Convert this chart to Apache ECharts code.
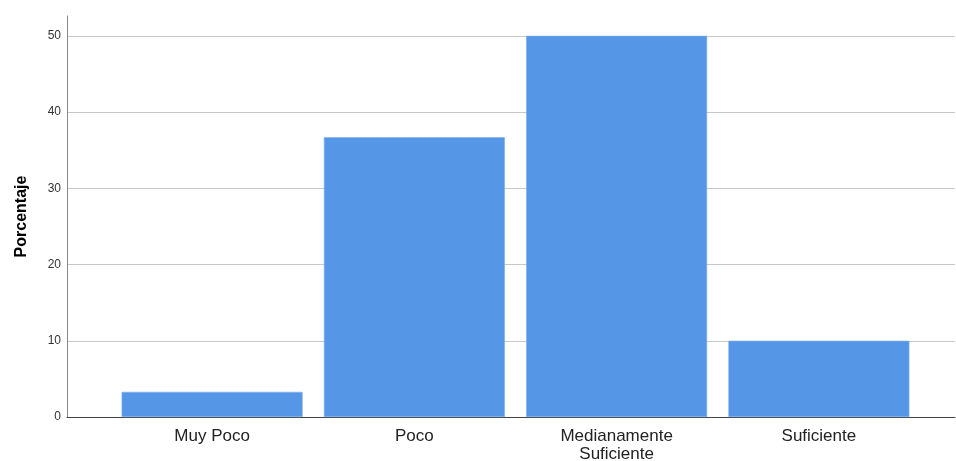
<!DOCTYPE html>
<html><head><meta charset="utf-8">
<script src="https://cdn.jsdelivr.net/npm/echarts@6/dist/echarts.min.js"></script>
<style>html,body{margin:0;padding:0;background:#fff}#c{width:956px;height:461px}</style>
</head><body><div id="c"></div>
<script>
const categories = ['Muy Poco', 'Poco', 'Medianamente\nSuficiente', 'Suficiente'];
const values = [3.3, 36.7, 50.0, 10.0];
const yTicks = [0, 10, 20, 30, 40, 50];
const yName = 'Porcentaje';

const chart = echarts.init(document.getElementById('c'));
const font = '"Liberation Sans", Arial, sans-serif';
const yMax = 52.6;
chart.setOption({
  animation: false,
  grid: [
    {left: 67, right: 1, top: 16, bottom: 44, outerBoundsMode: 'none', containLabel: false},
    {left: 111, right: 36, top: 16, bottom: 44, outerBoundsMode: 'none', containLabel: false}
  ],
  xAxis: [
    {type: 'value', gridIndex: 0, min: 0, max: 1, axisLabel: {show: false}, axisTick: {show: false}, splitLine: {show: false},
     axisLine: {show: true, lineStyle: {color: '#444', width: 1}}},
    {type: 'category', gridIndex: 1, data: categories, axisLine: {show: false}, axisTick: {show: false},
     axisLabel: {color: '#222', fontFamily: font, fontSize: 17, lineHeight: 18, margin: 10, interval: 0}}
  ],
  yAxis: [
    {type: 'value', gridIndex: 0, min: 0, max: yMax, interval: 10, name: yName, nameLocation: 'middle', nameGap: 37,
     nameTextStyle: {fontFamily: font, fontSize: 16, fontWeight: 'bold', color: '#000'},
     axisLine: {show: true, lineStyle: {color: '#888'}}, axisTick: {show: false},
     axisLabel: {color: '#333', fontFamily: font, fontSize: 12, margin: 6, showMaxLabel: false,
       formatter: v => yTicks.includes(v) ? String(v) : ''},
     splitLine: {show: true, showMaxLine: false, showMinLine: false, lineStyle: {color: '#c8c8c8', width: 1}}},
    {type: 'value', gridIndex: 1, min: 0, max: yMax, interval: 10, show: false, splitLine: {show: false}}
  ],
  series: [{
    type: 'bar', xAxisIndex: 1, yAxisIndex: 1, data: values, barWidth: 181,
    itemStyle: {color: '#5596e6', borderColor: '#7fb0ee', borderWidth: 0.6}
  }]
});
</script></body></html>
